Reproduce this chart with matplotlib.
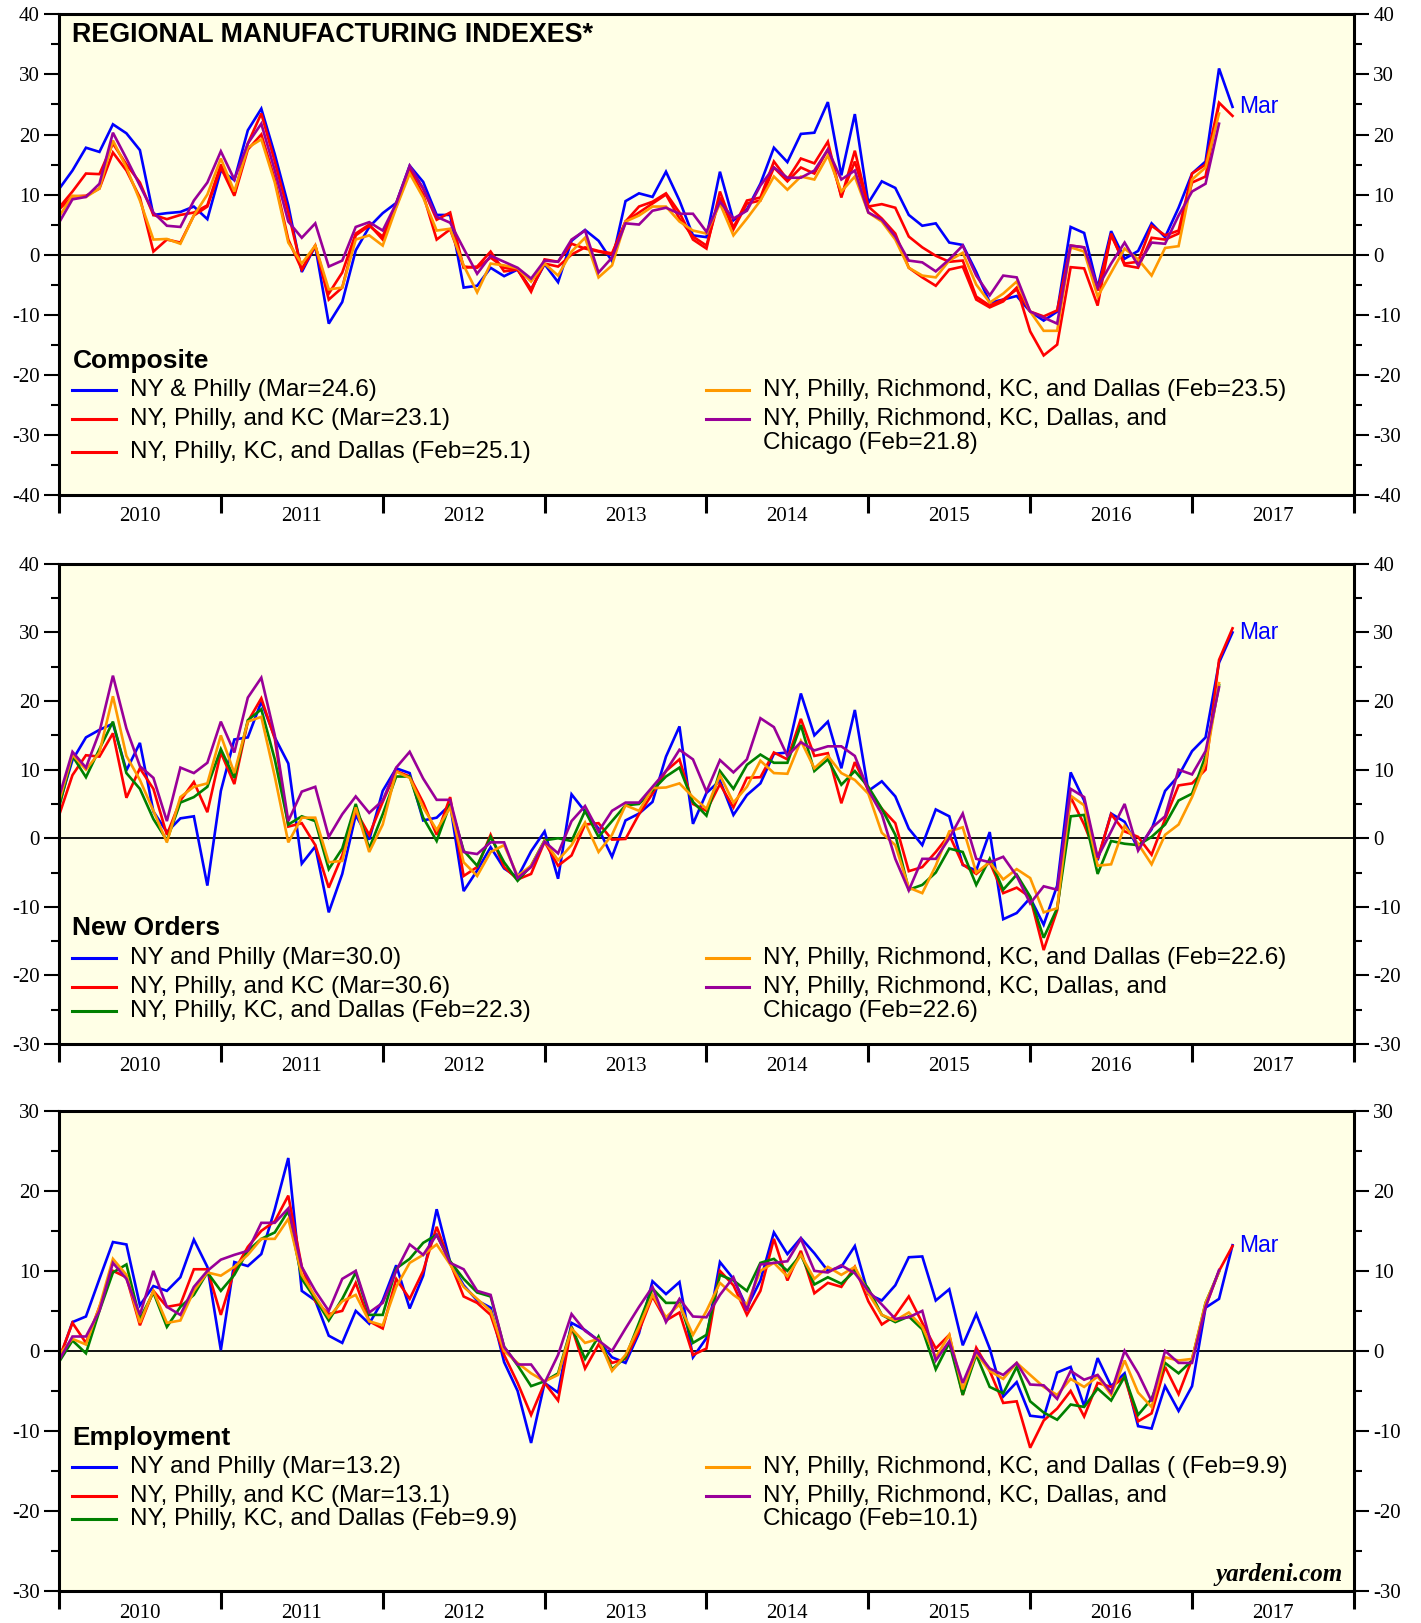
import numpy as np
import matplotlib
matplotlib.use("Agg")
import matplotlib.pyplot as plt
from matplotlib.lines import Line2D
from matplotlib.ticker import MultipleLocator, FixedLocator, NullFormatter, FixedFormatter

plt.rcParams["axes.unicode_minus"] = False

# monthly readings, Dec-2009 end ... Mar-2017 (Feb-2017 for the 5 & 6 district series)
years = ["2010", "2011", "2012", "2013", "2014", "2015", "2016", "2017"]

comp_ny_philly = [10.9, 14.0, 17.8, 17.1, 21.7, 20.2, 17.4, 6.6, 6.9, 7.1, 8.0, 5.9,
                  14.0, 12.4, 20.7, 24.3, 16.7, 8.2, -2.9, 1.4, -11.5, -7.9, 0.7, 4.6,
                  6.9, 8.6, 14.8, 12.1, 6.6, 6.6, -5.5, -5.2, -2.2, -3.6, -2.5, -5.8,
                  -1.6, -4.6, 2.3, 4.1, 2.3, -1.1, 8.9, 10.2, 9.6, 13.8, 9.0, 3.2,
                  2.9, 13.8, 5.7, 7.5, 11.8, 17.8, 15.4, 20.1, 20.3, 25.4, 13.2, 23.4,
                  8.6, 12.2, 11.1, 6.6, 4.8, 5.2, 2.0, 1.6, -2.9, -8.0, -7.5, -6.9,
                  -9.5, -11.0, -9.5, 4.6, 3.6, -5.5, 3.9, -0.7, 0.6, 5.2, 2.9, 7.8,
                  13.5, 15.5, 31.0, 24.6]
comp_kc = [7.8, 10.5, 13.5, 13.4, 18.5, 15.0, 12.0, 6.6, 5.9, 6.6, 7.0, 8.2,
           15.0, 10.0, 18.5, 23.5, 15.5, 7.0, -2.5, 1.5, -7.5, -5.5, 3.2, 4.8,
           3.0, 8.5, 14.5, 11.0, 5.8, 7.0, -2.2, -2.0, 0.5, -2.8, -2.5, -6.2,
           -0.8, -1.2, 1.8, 1.0, 0.5, 0.0, 5.5, 8.0, 8.8, 10.2, 7.0, 2.5,
           1.0, 10.5, 4.5, 9.0, 9.5, 15.5, 12.5, 16.0, 15.2, 18.8, 9.5, 17.3,
           8.0, 8.4, 7.8, 3.0, 1.2, -0.2, -1.2, -1.0, -7.0, -8.5, -7.5, -5.8,
           -9.5, -10.3, -9.3, 1.5, 1.2, -6.0, 3.2, -1.5, -1.2, 4.8, 3.2, 4.0,
           13.5, 15.0, 25.3, 23.1]
comp_dallas = [7.5, 9.7, 9.8, 11.0, 17.0, 14.0, 9.5, 0.5, 2.5, 2.0, 6.5, 8.0,
               14.5, 9.8, 17.5, 20.0, 12.5, 2.5, -2.5, 1.5, -6.5, -3.0, 3.5, 5.0,
               2.5, 8.0, 14.0, 10.0, 2.5, 4.2, -2.0, -2.2, -0.5, -2.2, -2.5, -5.8,
               -1.5, -2.0, 0.0, 1.2, 0.6, 0.2, 5.5, 7.0, 8.5, 10.0, 6.0, 3.0,
               1.5, 9.5, 4.2, 8.5, 9.0, 14.5, 12.2, 14.5, 13.5, 17.5, 9.8, 15.5,
               8.0, 6.0, 3.5, -2.2, -3.8, -5.2, -2.5, -2.0, -7.5, -8.8, -7.8, -5.5,
               -12.8, -16.8, -15.0, -2.1, -2.3, -8.5, 3.5, -1.8, -2.2, 2.8, 2.5, 3.5,
               12.0, 13.0, 25.1]
comp_richmond = [6.3, 9.8, 9.6, 11.0, 19.0, 14.5, 9.0, 2.5, 2.6, 1.8, 6.5, 10.0,
                 16.0, 10.5, 17.8, 19.2, 12.0, 2.0, -1.5, 1.5, -5.8, -5.5, 2.5, 3.2,
                 1.5, 7.8, 13.5, 9.5, 4.0, 4.3, -1.8, -6.3, -1.5, -1.8, -2.3, -4.5,
                 -1.5, -3.5, 0.5, 2.8, -3.8, -1.8, 5.5, 6.5, 8.0, 8.0, 5.5, 4.0,
                 3.5, 8.5, 3.2, 6.0, 9.0, 13.0, 10.8, 13.0, 12.5, 16.5, 10.5, 13.0,
                 7.0, 5.5, 2.5, -2.2, -3.5, -3.8, -1.0, 0.3, -5.0, -8.0, -6.5, -4.5,
                 -9.5, -12.7, -12.7, 1.2, 0.5, -7.0, -3.0, 1.0, -0.8, -3.5, 1.1, 1.4,
                 12.5, 14.5, 23.5]
comp_chicago = [5.3, 9.2, 9.6, 11.8, 20.3, 16.0, 11.5, 7.0, 4.8, 4.6, 9.0, 12.0,
                17.2, 12.5, 18.5, 21.8, 14.0, 5.5, 2.8, 5.2, -2.0, -1.0, 4.6, 5.4,
                4.0, 8.5, 14.8, 11.0, 6.3, 5.3, 1.0, -3.2, -0.2, -1.2, -2.2, -4.0,
                -1.0, -1.2, 2.5, 4.0, -3.0, -0.5, 5.2, 5.0, 7.3, 7.8, 6.8, 6.8,
                3.8, 8.8, 6.0, 7.3, 11.5, 14.5, 12.8, 12.8, 14.0, 17.5, 12.5, 14.0,
                7.0, 5.8, 3.0, -1.0, -1.3, -2.8, -0.8, 1.5, -3.5, -6.8, -3.5, -3.8,
                -9.5, -10.5, -11.5, 1.5, 1.2, -5.5, -1.5, 2.0, -1.8, 2.0, 1.8, 6.5,
                10.5, 11.8, 21.8]

no_ny_philly = [4.9, 11.4, 14.7, 15.8, 16.7, 9.9, 13.9, 3.9, 0.9, 2.9, 3.2, -6.9,
                6.9, 14.4, 14.7, 19.9, 14.7, 10.9, -3.7, -1.2, -10.8, -5.2, 3.4, -0.2,
                6.9, 10.2, 9.5, 2.6, 3.0, 4.9, -7.7, -4.7, -1.3, -4.4, -5.7, -1.9,
                1.0, -5.9, 6.4, 3.9, 1.4, -2.7, 2.6, 3.6, 5.3, 11.9, 16.3, 2.1,
                6.6, 8.4, 3.4, 6.3, 8.0, 12.3, 12.5, 21.1, 15.0, 17.0, 10.2, 18.7,
                6.9, 8.3, 6.1, 1.4, -1.0, 4.2, 3.2, -3.9, -4.7, 0.9, -11.8, -10.9,
                -8.7, -12.6, -6.9, 9.6, 5.5, -3.2, 3.6, 2.4, -1.5, 1.3, 6.9, 9.1,
                12.7, 14.7, 25.6, 30.0]
no_kc = [3.3, 9.2, 12.1, 11.9, 15.3, 5.9, 10.2, 7.2, 0.5, 5.5, 8.2, 3.8,
         12.5, 7.9, 17.0, 20.4, 14.5, 1.7, 2.2, -1.0, -7.2, -2.5, 4.0, 0.5,
         5.3, 9.8, 9.0, 5.2, 0.5, 6.0, -5.5, -4.2, 0.5, -4.2, -6.0, -5.2,
         -0.5, -4.0, -2.5, 2.0, 2.2, -0.2, -0.1, 3.5, 6.5, 9.8, 11.5, 5.0,
         4.0, 7.9, 4.5, 8.8, 8.9, 12.5, 11.5, 17.4, 12.0, 12.4, 5.1, 11.1,
         7.0, 4.3, 2.2, -4.8, -4.2, -2.0, 0.5, -3.8, -5.2, -3.5, -8.0, -7.2,
         -8.6, -16.3, -10.5, 6.0, 2.0, -3.0, 3.5, 1.0, 0.2, -2.4, 2.8, 7.7,
         8.0, 10.0, 26.0, 30.6]
no_dallas = [4.5, 12.0, 8.9, 13.0, 17.0, 9.5, 7.2, 2.8, -0.3, 5.2, 6.0, 7.5,
             13.0, 8.8, 17.2, 18.8, 11.5, 2.0, 3.2, 2.5, -4.5, -1.5, 5.0, -1.5,
             3.5, 9.0, 9.0, 3.0, -0.4, 5.0, -1.8, -4.0, 0.2, -3.5, -6.2, -4.0,
             -0.3, 0.0, -0.4, 4.0, 0.2, 2.5, 4.8, 5.0, 7.0, 9.0, 10.3, 5.3,
             3.3, 9.8, 7.2, 10.7, 12.2, 11.0, 11.0, 16.5, 9.8, 11.5, 7.8, 9.8,
             7.5, 4.3, 0.5, -7.5, -6.8, -5.0, -1.5, -2.0, -6.8, -3.0, -7.5, -5.3,
             -8.5, -14.5, -10.2, 3.2, 3.4, -5.2, -0.4, -0.8, -1.0, 0.2, 2.0, 5.5,
             6.5, 12.0, 22.3]
no_richmond = [5.3, 12.2, 10.0, 12.5, 20.7, 12.0, 8.5, 4.0, -0.6, 6.0, 7.5, 8.0,
               15.0, 9.5, 17.0, 17.7, 9.0, -0.6, 3.0, 3.0, -3.5, -3.3, 4.5, -2.0,
               2.0, 9.7, 8.8, 4.5, 1.2, 4.5, -3.5, -5.5, -2.0, -1.0, -5.5, -4.0,
               -0.4, -3.2, -1.0, 2.3, -2.0, 0.5, 4.8, 4.0, 7.3, 7.4, 8.0, 6.0,
               4.3, 9.2, 5.2, 7.5, 11.3, 9.5, 9.4, 14.2, 10.2, 12.0, 9.5, 8.5,
               6.5, 0.8, -1.0, -7.2, -8.0, -4.0, 1.0, 1.6, -5.0, -3.5, -6.0, -4.5,
               -5.8, -10.8, -10.2, 6.2, 4.8, -4.0, -3.8, 1.8, -0.8, -3.8, 0.5, 2.0,
               6.0, 11.0, 22.6]
no_chicago = [6.0, 12.6, 10.3, 15.5, 23.7, 16.0, 10.5, 8.8, 2.5, 10.3, 9.5, 11.0,
              17.0, 12.5, 20.5, 23.4, 15.0, 2.5, 6.8, 7.5, 0.2, 3.5, 6.1, 3.7,
              5.5, 10.3, 12.6, 8.7, 5.6, 5.6, -2.0, -2.3, -0.6, -0.6, -5.8, -4.2,
              -0.5, -2.2, 2.5, 4.7, 1.0, 4.0, 5.2, 5.2, 7.5, 9.8, 12.9, 11.5,
              6.8, 11.4, 9.6, 11.5, 17.5, 16.2, 12.0, 14.0, 12.8, 13.4, 13.4, 12.0,
              7.0, 3.5, -3.0, -7.6, -3.0, -3.0, 0.0, 3.6, -3.0, -3.5, -2.7, -5.5,
              -9.5, -7.0, -7.5, 7.2, 6.0, -2.8, 1.0, 5.0, -1.8, 1.5, 3.2, 10.0,
              9.3, 12.7, 22.0]

emp_ny_philly = [-1.2, 3.6, 4.3, 9.0, 13.6, 13.3, 5.7, 8.1, 7.5, 9.2, 13.9, 10.5,
                 0.1, 11.1, 10.6, 12.1, 17.7, 24.1, 7.5, 6.3, 1.9, 1.0, 5.0, 3.4,
                 6.3, 10.7, 5.3, 9.4, 17.7, 11.1, 8.2, 6.3, 5.4, -1.4, -5.0, -11.5,
                 -4.0, -5.2, 3.5, 2.6, 1.3, -0.8, -1.5, 2.2, 8.7, 7.1, 8.6, -0.8,
                 1.6, 11.1, 9.0, 5.4, 8.8, 14.8, 12.1, 14.1, 12.2, 10.0, 10.5, 13.1,
                 7.1, 6.3, 8.2, 11.7, 11.8, 6.3, 7.7, 0.7, 4.6, 0.3, -5.7, -3.9,
                 -8.1, -8.3, -2.7, -2.0, -6.9, -0.9, -4.4, -2.8, -9.4, -9.7, -4.4, -7.5,
                 -4.4, 5.4, 6.5, 13.2]
emp_kc = [-1.0, 3.5, 1.0, 5.5, 10.0, 9.2, 3.2, 7.5, 5.5, 5.8, 10.2, 10.2,
          4.5, 10.0, 13.0, 15.0, 16.2, 19.4, 10.5, 6.2, 4.6, 5.0, 8.5, 3.7,
          2.8, 9.0, 6.5, 10.0, 15.5, 11.0, 6.8, 6.0, 4.5, -0.5, -4.0, -8.0,
          -4.0, -6.2, 3.0, -2.2, 0.8, -1.5, -1.0, 2.5, 6.8, 3.8, 4.8, -0.5,
          0.3, 10.0, 8.2, 4.5, 7.5, 14.0, 8.8, 12.5, 7.2, 8.5, 8.0, 10.5,
          6.2, 3.3, 4.4, 6.8, 3.5, 0.3, 2.0, -5.5, 0.4, -2.5, -6.5, -6.3,
          -12.1, -8.7, -7.2, -5.0, -8.2, -4.0, -4.5, -3.3, -8.8, -7.8, -2.0, -5.4,
          -1.0, 5.5, 10.0, 13.1]
emp_dallas = [-1.4, 1.3, -0.3, 5.0, 9.8, 10.8, 4.0, 7.3, 3.0, 5.5, 7.0, 9.8,
              7.5, 9.5, 12.5, 14.0, 14.8, 17.5, 9.0, 6.5, 3.8, 6.5, 9.8, 4.5,
              4.5, 10.3, 11.5, 13.5, 14.5, 11.2, 9.0, 7.3, 6.8, 0.5, -1.8, -4.4,
              -3.8, -2.8, 3.0, -1.0, 1.8, -2.3, -0.8, 3.5, 7.8, 6.0, 6.0, 1.0,
              2.0, 9.5, 8.8, 7.5, 11.0, 11.5, 10.0, 12.0, 8.3, 9.2, 8.4, 10.0,
              7.8, 4.5, 3.6, 4.3, 2.7, -2.3, 1.0, -5.5, -0.5, -4.5, -5.3, -2.0,
              -6.3, -7.7, -8.6, -6.7, -7.0, -4.7, -6.2, -3.2, -8.0, -6.0, -1.5, -2.8,
              -1.2, 6.0, 9.9]
emp_richmond = [-0.5, 1.5, 0.8, 5.5, 11.5, 9.5, 3.5, 7.5, 3.5, 3.8, 7.5, 9.8,
                9.4, 10.5, 12.0, 14.0, 14.0, 16.5, 9.5, 6.8, 4.2, 6.2, 7.0, 3.7,
                3.2, 8.0, 11.0, 12.0, 13.3, 10.8, 8.0, 6.5, 5.0, 0.0, -1.5, -2.8,
                -3.8, -3.0, 2.8, 1.0, 1.5, -2.5, -0.5, 3.0, 7.0, 4.2, 5.8, 2.0,
                5.0, 8.5, 7.0, 5.8, 10.0, 11.0, 9.3, 12.0, 9.0, 10.5, 9.5, 10.5,
                7.2, 4.5, 3.8, 4.8, 3.0, -0.8, 2.0, -4.8, -0.3, -2.5, -3.5, -1.5,
                -3.0, -4.5, -5.5, -3.5, -4.5, -3.2, -5.5, -1.2, -5.2, -7.0, -0.8, -1.2,
                -1.0, 6.0, 9.9]
emp_chicago = [-1.2, 1.8, 1.8, 5.0, 11.0, 9.0, 4.5, 10.0, 5.5, 4.5, 8.0, 10.0,
               11.4, 12.0, 12.5, 16.0, 16.0, 17.8, 10.5, 7.5, 5.0, 9.0, 10.0, 4.8,
               6.0, 10.0, 13.3, 12.0, 14.5, 11.0, 10.2, 7.5, 7.0, 0.5, -1.7, -1.7,
               -4.0, -0.5, 4.6, 2.5, 1.3, 0.0, 2.8, 5.5, 8.0, 3.6, 6.5, 4.3,
               4.2, 7.0, 9.2, 5.0, 10.8, 11.0, 11.2, 14.0, 10.0, 9.8, 10.7, 9.7,
               7.5, 5.8, 4.0, 4.2, 5.0, -1.2, 1.2, -4.0, 0.0, -2.2, -3.0, -1.5,
               -4.2, -4.3, -6.0, -2.5, -3.6, -3.0, -5.2, 0.0, -2.8, -6.3, 0.0, -1.5,
               -1.5, 5.5, 10.1]

BLUE, RED, GREEN, ORANGE, PURPLE = "#0000ff", "#ff0000", "#008000", "#ff9900", "#990099"
SANS = "Liberation Sans"
SERIF = "Liberation Serif"
LEG_FS = 17.5

panels = [
    dict(title="Composite", ylim=(-40, 40), bottom=0.6952,
         series=[comp_ny_philly, comp_kc, comp_dallas, comp_richmond, comp_chicago],
         colors=[BLUE, RED, RED, ORANGE, PURPLE],
         labels=["NY & Philly (Mar=24.6)", "NY, Philly, and KC (Mar=23.1)",
                 "NY, Philly, KC, and Dallas (Feb=25.1)",
                 "NY, Philly, Richmond, KC, and Dallas (Feb=23.5)",
                 "NY, Philly, Richmond, KC, Dallas, and", "Chicago (Feb=21.8)"],
         ty=0.278, rows=[0.2175, 0.1575, 0.0886], rrows=[0.2175, 0.1575, 0.1077]),
    dict(title="New Orders", ylim=(-30, 40), bottom=0.3567,
         series=[no_ny_philly, no_kc, no_dallas, no_richmond, no_chicago],
         colors=[BLUE, RED, GREEN, ORANGE, PURPLE],
         labels=["NY and Philly (Mar=30.0)", "NY, Philly, and KC (Mar=30.6)",
                 "NY, Philly, KC, and Dallas (Feb=22.3)",
                 "NY, Philly, Richmond, KC, and Dallas (Feb=22.6)",
                 "NY, Philly, Richmond, KC, Dallas, and", "Chicago (Feb=22.6)"],
         ty=0.241, rows=[0.1792, 0.1179, 0.0683], rrows=[0.1792, 0.1179, 0.0683]),
    dict(title="Employment", ylim=(-30, 30), bottom=0.0197,
         series=[emp_ny_philly, emp_kc, emp_dallas, emp_richmond, emp_chicago],
         colors=[BLUE, RED, GREEN, ORANGE, PURPLE],
         labels=["NY and Philly (Mar=13.2)", "NY, Philly, and KC (Mar=13.1)",
                 "NY, Philly, KC, and Dallas (Feb=9.9)",
                 "NY, Philly, Richmond, KC, and Dallas ( (Feb=9.9)",
                 "NY, Philly, Richmond, KC, Dallas, and", "Chicago (Feb=10.1)"],
         ty=0.319, rows=[0.259, 0.1985, 0.149], rrows=[0.259, 0.1985, 0.149]),
]

fig = plt.figure(figsize=(14.21, 16.23), dpi=100)

for p in panels:
    ax = fig.add_axes([0.0415, p["bottom"], 0.9113, 0.2959])
    ax.set_facecolor("#ffffe6")
    for s, c in zip(p["series"], p["colors"]):
        x = 2010 + np.arange(len(s)) / 12.0
        ax.plot(x, s, color=c, lw=1.9, solid_joinstyle="miter")
    ax.axhline(0, color="black", lw=1.3, zorder=1)

    ax.set_xlim(2010, 2018)
    ax.set_ylim(*p["ylim"])
    for sp in ax.spines.values():
        sp.set_linewidth(2.2)

    ax.yaxis.set_major_locator(MultipleLocator(10))
    ax.yaxis.set_minor_locator(MultipleLocator(5))
    ax.tick_params(axis="y", which="both", direction="out", left=True, right=True,
                   labelleft=True, labelright=True, labelsize=15, width=1.5, pad=3)
    ax.tick_params(axis="y", which="major", length=11)
    ax.tick_params(axis="y", which="minor", length=6)

    ax.xaxis.set_major_locator(FixedLocator(range(2010, 2019)))
    ax.xaxis.set_major_formatter(NullFormatter())
    ax.xaxis.set_minor_locator(FixedLocator([int(y) + 0.5 for y in years]))
    ax.xaxis.set_minor_formatter(FixedFormatter(years))
    ax.tick_params(axis="x", which="major", direction="out", length=13, width=2.2)
    ax.tick_params(axis="x", which="minor", length=0, labelsize=15, pad=9)
    for lab in ax.get_xticklabels(which="minor") + ax.get_yticklabels():
        lab.set_family(SERIF)

    # legend block
    ax.text(0.0104, p["ty"], p["title"], transform=ax.transAxes, fontsize=19,
            fontweight="bold", family=SANS, va="center", ha="left")
    lab = p["labels"]
    for i, yy in enumerate(p["rows"]):
        ax.add_line(Line2D([0.0104, 0.044], [yy, yy], transform=ax.transAxes,
                           color=p["colors"][i], lw=2.2))
        ax.text(0.0551, yy, lab[i], transform=ax.transAxes, fontsize=LEG_FS,
                family=SANS, va="center", ha="left")
    rr = p["rrows"]
    for j, c in enumerate(p["colors"][3:]):
        ax.add_line(Line2D([0.4996, 0.533], [rr[j], rr[j]], transform=ax.transAxes,
                           color=c, lw=2.2))
    for j in range(3):
        ax.text(0.544, rr[j], lab[3 + j], transform=ax.transAxes, fontsize=LEG_FS,
                family=SANS, va="center", ha="left")

    blue = p["series"][0]
    ax.annotate("Mar", xy=(2010 + (len(blue) - 1) / 12.0, blue[-1]), xytext=(5, 0),
                textcoords="offset points", color=BLUE, fontsize=16.5, family=SANS,
                va="center", ha="left")
    p["ax"] = ax

top = panels[0]["ax"]
top.text(0.0104, 0.957, "REGIONAL MANUFACTURING INDEXES*", transform=top.transAxes,
         fontsize=19.4, fontweight="bold", family=SANS, va="center", ha="left")
panels[2]["ax"].text(0.991, 0.035, "yardeni.com", transform=panels[2]["ax"].transAxes,
                     fontsize=18, fontweight="bold", style="italic", family=SERIF,
                     va="center", ha="right")

fig.savefig("out.png", dpi=100)
